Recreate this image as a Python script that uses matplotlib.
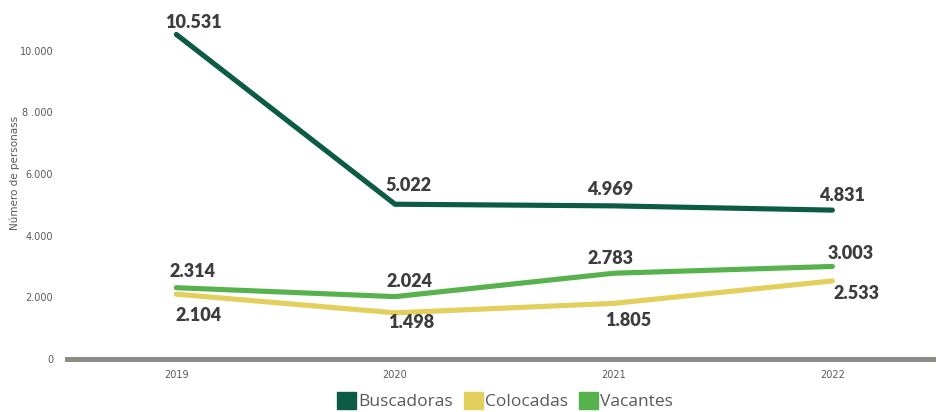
import matplotlib.pyplot as plt
from matplotlib.patches import Patch

years = ['2019', '2020', '2021', '2022']
buscadoras = [10531, 5022, 4969, 4831]
colocadas = [2104, 1498, 1805, 2533]
vacantes = [2314, 2024, 2783, 3003]

# label offsets in pixels (dx, dy) per point
off_busc = [(17, 12), (13, 19), (-4, 16), (10, 15)]
off_coloc = [(22, -21), (16, -10), (15, -17), (24, -13)]
off_vac = [(16, 16), (14, 15), (-3, 15), (18, 13)]

c_busc = '#0b5b45'
c_coloc = '#e3cf5c'
c_vac = '#57b14c'
txt = '#3d3d3d'
grey = '#595959'

fig = plt.figure(figsize=(9.36, 4.12), dpi=100)
ax = fig.add_axes([67 / 936, 53 / 412, 874.7 / 936, 339 / 412])

x = range(len(years))


def fmt(v):
    return f"{v:,}".replace(',', '.')


for vals, col, offs in [(buscadoras, c_busc, off_busc),
                        (colocadas, c_coloc, off_coloc),
                        (vacantes, c_vac, off_vac)]:
    ax.plot(x, vals, color=col, lw=3.7, solid_capstyle='round',
            solid_joinstyle='miter', zorder=3)
    for i, v in enumerate(vals):
        ax.annotate(fmt(v), (i, v), xytext=offs[i], textcoords='offset pixels',
                    ha='center', va='center', fontsize=13, fontweight='heavy',
                    family='Lato', color=txt, annotation_clip=False)

ax.axhline(0, color='#8c8c84', lw=3.6, zorder=2, clip_on=False)

ax.set_xlim(-0.5, 3.5)
ax.set_ylim(0, 11000)
ax.set_yticks([0, 2000, 4000, 6000, 8000, 10000])
ax.set_yticklabels(['0', '2.000', '4.000', '6.000', '8 .000', '10.000'])
ax.set_xticks(list(x))
ax.set_xticklabels(years)
ax.tick_params(axis='y', length=0, pad=10, labelsize=7, labelcolor=grey)
ax.tick_params(axis='x', length=0, pad=8, labelsize=7, labelcolor=grey)
for s in ax.spines.values():
    s.set_visible(False)

fig.text(15 / 936, 1 - 173 / 412, 'Número de personass', rotation=90,
         ha='center', va='center', fontsize=7.5, color=grey)

handles = [Patch(color=c_busc, label='Buscadoras'),
           Patch(color=c_coloc, label='Colocadas'),
           Patch(color=c_vac, label='Vacantes')]
leg = fig.legend(handles=handles, loc='center', bbox_to_anchor=(505 / 936, 11 / 412),
                 ncol=3, frameon=False, handlelength=1.1, handleheight=1.1,
                 handletextpad=0.15, columnspacing=0.6,
                 prop={'family': 'Open Sans', 'size': 12.5})
for t in leg.get_texts():
    t.set_color(grey)

fig.savefig('out.png', dpi=100)
